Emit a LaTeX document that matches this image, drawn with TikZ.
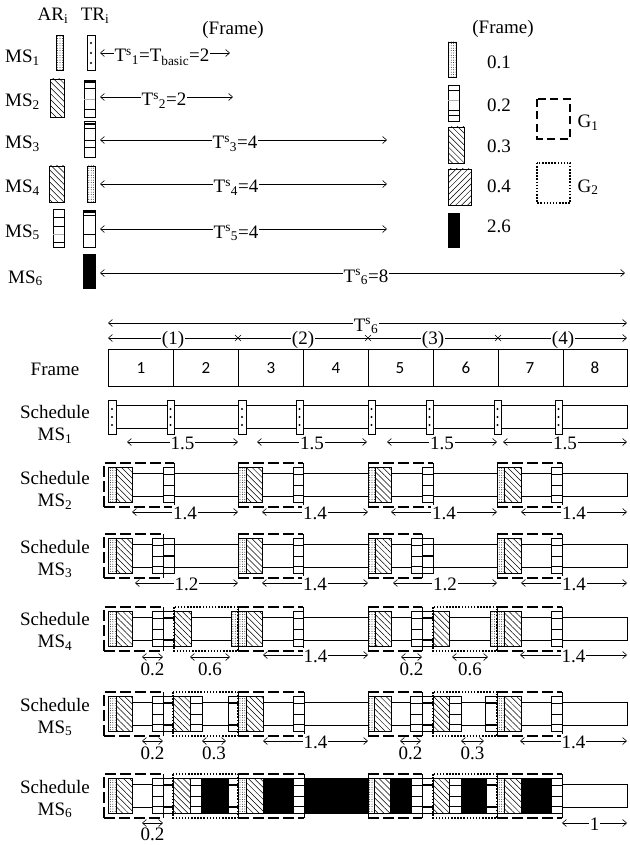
\documentclass[tikz,border=0pt]{standalone}
\usepackage{fontspec}
\setmainfont{Liberation Serif}
\newfontfamily\calfont{Carlito}
\usetikzlibrary{patterns.meta,arrows.meta}
\newcommand{\Tsub}[1]{T\textsuperscript{s}\textsubscript{#1}}
\newcommand{\MSs}[1]{MS\textsubscript{#1}}
% blocks: x1 x2 c
\newcommand{\bDot}[3]{\draw[dotfill] (#1,#3-17.5) rectangle (#2,#3+17.5);}
\newcommand{\bHat}[3]{\draw[hatfill] (#1,#3-17.5) rectangle (#2,#3+17.5);}
\newcommand{\bLin}[3]{\draw[wbox] (#1,#3-17.5) rectangle (#2,#3+17.5);
  \draw[ln] (#1,#3-10.5) -- (#2,#3-10.5) (#1,#3) -- (#2,#3) (#1,#3+10.5) -- (#2,#3+10.5);}
\newcommand{\bThk}[3]{\draw[wbox] (#1,#3-17.5) rectangle (#2,#3+17.5);
  \draw[line width=1.8pt] (#1,#3-11) -- (#2,#3-11) (#1,#3+11) -- (#2,#3+11);}
\newcommand{\bMid}[3]{\draw[wbox] (#1,#3-17.5) rectangle (#2,#3+17.5);
  \draw[ln] (#1,#3-11.5) -- (#2,#3-11.5) (#1,#3+11.5) -- (#2,#3+11.5);
  \draw[line width=1.8pt] (#1,#3) -- (#2,#3);}
\newcommand{\bBlk}[3]{\draw[bbox] (#1,#3-17.5) rectangle (#2,#3+17.5);}
\newcommand{\bTRa}[3]{\draw[wbox] (#1,#3-17) rectangle (#2,#3+17);
  \fill (#1/2+#2/2,#3-8) circle[radius=1.1pt] (#1/2+#2/2,#3) circle[radius=1.1pt] (#1/2+#2/2,#3+8) circle[radius=1.1pt];}
\newcommand{\strip}[1]{\draw[ln] (108,#1-11.5) rectangle (627,#1+11.5);}
% groups
\newcommand{\gOne}[3]{\draw[gdash] (#1,#3-22) -- (#2,#3-22) (#1,#3+22) -- (#2,#3+22);
  \draw[ln] (#1,#3-22) -- (#1,#3+22) (#2,#3-22) -- (#2,#3+22);}
\newcommand{\gOneF}[3]{\draw[gdash] (#1,#3+22) -- (#1,#3-22) -- (#2,#3-22) (#1,#3+22) -- (#2,#3+22);
  \draw[ln] (#2,#3-22) -- (#2,#3+22);}
\newcommand{\gTwo}[3]{\draw[gdot] (#1,#3-22) rectangle (#2,#3+22);}
% arrows
\newcommand{\arl}[4]{\draw[arr] (#1,#3) -- (#2,#3); \node[lbl,anchor=base] at (#1/2+#2/2,#3+7) {#4};}
\newcommand{\sarr}[5]{\draw[arr] (#1,#3) -- (#2,#3); \node[anchor=base] at (#1/2+#2/2,#3+#5) {#4};}
\begin{document}
\begin{tikzpicture}[x=1pt,y=-1pt,
  every node/.style={font=\fontsize{19}{22}\selectfont, inner sep=0pt},
  ln/.style={line width=0.6pt},
  arr/.style={line width=0.6pt, {Straight Barb[length=4pt,width=7pt]}-{Straight Barb[length=4pt,width=7pt]}},
  lbl/.style={fill=white, inner xsep=1pt, inner ysep=1pt},
  dotfill/.style={draw, line width=0.6pt, preaction={fill=white}, pattern={Dots[distance=2.4pt,radius=0.45pt]}},
  hatfill/.style={draw, line width=0.6pt, preaction={fill=white}, pattern={Lines[angle=-45,distance=4.2pt,line width=0.5pt]}},
  hatfillb/.style={draw, line width=0.6pt, preaction={fill=white}, pattern={Lines[angle=45,distance=4.2pt,line width=0.5pt]}},
  wbox/.style={draw, line width=0.6pt, fill=white},
  bbox/.style={draw, line width=0.6pt, fill=black},
  gdash/.style={line width=1.1pt, dash pattern=on 11pt off 4pt},
  gdot/.style={line width=1.3pt, dash pattern=on 1.5pt off 1.6pt},
  numf/.style={font=\calfont\fontsize{17}{20}\selectfont},
]
\useasboundingbox (0,0) rectangle (629,845);

% ---------- top section ----------
\node (hAR) [anchor=base] at (53,21) {AR\textsubscript{i}};
\node (hTR) [anchor=base] at (95,21) {TR\textsubscript{i}};
\node (hFr) at (233,30) {(Frame)};

\node (m1) [anchor=base west] at (5,63) {\MSs{1}};
\node (m2) [anchor=base west] at (5,107) {\MSs{2}};
\node (m3) [anchor=base west] at (5,149) {\MSs{3}};
\node (m4) [anchor=base west] at (5,193) {\MSs{4}};
\node (m5) [anchor=base west] at (5,237) {\MSs{5}};
\node (m6) [anchor=base west] at (8,283) {\MSs{6}};

% AR / TR shapes
\draw[dotfill] (56,35) rectangle (63,70);
\draw[wbox] (87,35) rectangle (95,70);
\fill (91,43) circle[radius=1.1pt] (91,53) circle[radius=1.1pt] (91,63) circle[radius=1.1pt];

\draw[hatfill] (50,79) rectangle (64,117);
\draw[wbox] (84,80) rectangle (95,117);
\draw[line width=1.4pt] (84,82) -- (95,82);
\draw[ln] (84,88) -- (95,88) (84,109) -- (95,109);
\draw[ln,gray!60] (84,99) -- (95,99);

\draw[wbox] (84,121) rectangle (95,157);
\draw[line width=1.4pt] (84,124) -- (95,124);
\draw[ln] (84,128) -- (95,128) (84,140) -- (95,140) (84,147) -- (95,147);

\draw[hatfill] (49,166) rectangle (64,202);
\draw[dotfill] (87,166) rectangle (95,202);

\draw[wbox] (53,209) rectangle (64,247);
\draw[ln] (53,217) -- (64,217) (53,242) -- (64,242) (53,226) -- (64,226);
\draw[ln,gray!60] (53,234) -- (64,234);
\draw[wbox] (83,210) rectangle (95,247);
\draw[line width=1.6pt] (83,212) -- (95,212);
\draw[ln] (83,215) -- (95,215) (83,234) -- (95,234);

\draw[bbox] (83,254) rectangle (95,288);

% period arrows
\draw[arr] (100,53) -- (230,53);
\node (t1) [lbl,anchor=base] at (162,62) {\Tsub{1}=T\textsubscript{basic}=2};
\draw[arr] (100,97) -- (233,97);
\node (t2) [lbl,anchor=base] at (164,106) {\Tsub{2}=2};
\draw[arr] (100,140) -- (387,140);
\node (t3) [lbl,anchor=base] at (235,149) {\Tsub{3}=4};
\draw[arr] (100,184) -- (387,184);
\node (t4) [lbl,anchor=base] at (236,193) {\Tsub{4}=4};
\draw[arr] (100,229) -- (387,229);
\node (t5) [lbl,anchor=base] at (236,238) {\Tsub{5}=4};
\draw[arr] (100,273) -- (625,273);
\node (t6) [lbl,anchor=base] at (366,282) {\Tsub{6}=8};

% legend
\node (lFr) at (503,29) {(Frame)};
\draw[dotfill] (448,42) rectangle (456,77);
\node (l1) at (499,62) {0.1};
\draw[wbox] (448,85) rectangle (459,121);
\draw[ln] (448,90) -- (459,90) (448,110) -- (459,110) (448,115) -- (459,115);
\draw[ln,gray!60] (448,100) -- (459,100);
\node (l2) at (499,105) {0.2};
\draw[hatfill] (448,127) rectangle (464,163);
\node (l3) at (499,146) {0.3};
\draw[hatfillb] (448,169) rectangle (471,205);
\node (l4) at (499,186) {0.4};
\draw[bbox] (448,213) rectangle (459,247);
\node (l5) at (499,226) {2.6};
\draw[line width=1.1pt, dash pattern=on 8pt off 4.5pt] (537,99) rectangle (570,139);
\node (g1) [anchor=base] at (588,128) {G\textsubscript{1}};
\draw[gdot] (537,163) rectangle (570,203);
\node (g2) [anchor=base] at (588,192) {G\textsubscript{2}};

% ---------- frame row ----------
\draw[arr] (108,323) -- (627,323);
\node (T6) [lbl,anchor=base] at (366,331) {\Tsub{6}};
\draw[arr] (108,338) -- (627,338);
\foreach \xx in {238,368,498} \draw[ln] (\xx-3,335) -- (\xx+3,341) (\xx-3,341) -- (\xx+3,335);
\node (p1) [lbl,anchor=base] at (173,344) {(1)};
\node (p2) [lbl,anchor=base] at (303,344) {(2)};
\node (p3) [lbl,anchor=base] at (433,344) {(3)};
\node (p4) [lbl,anchor=base] at (563,344) {(4)};
\node (fr) at (55,369) {Frame};
\draw[ln] (108,349) rectangle (627,386);
\foreach \xx in {173,238,303,368,433,498,563} \draw[ln] (\xx,349) -- (\xx,386);
\foreach \xx/\n in {141/1,206/2,271/3,336/4,400/5,466/6,530/7,595/8}
  \node[numf] at (\xx,368) {\n};

% ---------- schedule labels ----------
\node (s1) [align=center] at (55,424) {Schedule\\\MSs{1}};
\node (s2) [align=center] at (55,490) {Schedule\\\MSs{2}};
\node (s3) [align=center] at (55,559) {Schedule\\\MSs{3}};
\node (s4) [align=center] at (55,631) {Schedule\\\MSs{4}};
\node (s5) [align=center] at (55,717) {Schedule\\\MSs{5}};
\node (s6) [align=center] at (55,799) {Schedule\\\MSs{6}};

% ---------- MS1 ----------
\strip{417}
\bTRa{108}{116}{417} \bTRa{167}{174}{417} \bTRa{238}{246}{417} \bTRa{296}{303}{417}
\bTRa{368}{375}{417} \bTRa{426}{433}{417} \bTRa{494}{501}{417} \bTRa{555}{562}{417}
\arl{127}{238}{442}{1.5} \arl{257}{367}{442}{1.5} \arl{387}{497}{442}{1.5} \arl{503}{627}{442}{1.5}

% ---------- MS2 ----------
\strip{485}
\bDot{108}{116}{485} \bHat{116}{132}{485} \bLin{163}{174}{485}
\bDot{238}{246}{485} \bHat{246}{262}{485} \bLin{293}{303}{485}
\bDot{368}{375}{485} \bHat{375}{391}{485} \bLin{422}{433}{485}
\bDot{497}{504}{485} \bHat{504}{521}{485} \bLin{551}{562}{485}
\gOneF{104}{174}{485} \gOne{238}{303}{485} \gOne{368}{433}{485} \gOne{497}{562}{485}
\arl{132}{238}{512}{1.4} \arl{262}{368}{512}{1.4} \arl{391}{497}{512}{1.4} \arl{521}{627}{512}{1.4}

% ---------- MS3 ----------
\strip{556}
\bDot{108}{116}{556} \bHat{116}{132}{556} \bLin{152}{163}{556} \bMid{163}{174}{556}
\bDot{238}{246}{556} \bHat{246}{262}{556} \bLin{293}{303}{556}
\bDot{368}{375}{556} \bHat{375}{391}{556} \bLin{411}{422}{556} \bMid{422}{433}{556}
\bDot{497}{504}{556} \bHat{504}{521}{556} \bLin{551}{562}{556}
\gOneF{104}{163}{556} \gOne{238}{303}{556} \gOne{368}{422}{556} \gOne{497}{562}{556}
\arl{135}{238}{583}{1.2} \arl{262}{368}{583}{1.4} \arl{393}{497}{583}{1.2} \arl{521}{627}{583}{1.4}

% ---------- MS4 ----------
\strip{629}
\bDot{108}{116}{629} \bHat{116}{132}{629} \bLin{152}{163}{629} \bThk{163}{174}{629}
\bHat{174}{191}{629} \bDot{231}{238}{629}
\bDot{238}{246}{629} \bHat{246}{262}{629} \bLin{293}{303}{629}
\bDot{368}{375}{629} \bHat{375}{391}{629} \bLin{411}{422}{629} \bThk{422}{433}{629}
\bHat{433}{449}{629} \bDot{490}{497}{629}
\bDot{497}{504}{629} \bHat{504}{521}{629} \bLin{551}{562}{629}
\gTwo{174}{238}{629} \gTwo{433}{497}{629}
\gOneF{104}{163}{629} \gOne{238}{303}{629} \gOne{368}{422}{629} \gOne{497}{562}{629}
\sarr{142}{163}{657}{0.2}{18} \sarr{190}{230}{657}{0.6}{18}
\arl{263}{368}{655}{1.4}
\sarr{401}{422}{657}{0.2}{18} \sarr{452}{488}{657}{0.6}{18}
\arl{520}{627}{655}{1.4}

% ---------- MS5 ----------
\strip{714}
\bDot{108}{116}{714} \bHat{116}{132}{714} \bLin{152}{163}{714} \bThk{163}{173}{714}
\bHat{173}{190}{714} \bLin{190}{202}{714} \bThk{228}{238}{714}
\bDot{238}{246}{714} \bHat{246}{263}{714} \bLin{293}{304}{714}
\bDot{368}{374}{714} \bHat{374}{391}{714} \bLin{410}{422}{714} \bThk{422}{433}{714}
\bHat{433}{449}{714} \bLin{449}{461}{714} \bThk{485}{497}{714}
\bDot{497}{504}{714} \bHat{504}{521}{714} \bLin{551}{562}{714}
\gTwo{173}{238}{714} \gTwo{433}{497}{714}
\gOneF{104}{163}{714} \gOne{238}{304}{714} \gOne{368}{422}{714} \gOne{497}{562}{714}
\sarr{142}{163}{741}{0.2}{18} \sarr{202}{226}{741}{0.3}{18}
\arl{263}{368}{741}{1.4}
\sarr{400}{421}{741}{0.2}{18} \sarr{461}{484}{741}{0.3}{18}
\arl{520}{627}{741}{1.4}

% ---------- MS6 ----------
\strip{796}
\bDot{108}{116}{796} \bHat{116}{132}{796} \bLin{152}{163}{796} \bThk{163}{173}{796}
\bHat{173}{190}{796} \bLin{190}{201}{796} \bBlk{201}{228}{796} \bThk{228}{238}{796}
\bDot{238}{246}{796} \bHat{246}{263}{796} \bBlk{263}{293}{796} \bLin{293}{304}{796} \bBlk{304}{368}{796}
\bDot{368}{374}{796} \bHat{374}{390}{796} \bBlk{390}{411}{796} \bLin{411}{422}{796} \bThk{422}{433}{796}
\bHat{433}{449}{796} \bLin{449}{461}{796} \bBlk{461}{486}{796} \bThk{486}{497}{796}
\bDot{497}{504}{796} \bHat{504}{521}{796} \bBlk{521}{551}{796} \bLin{551}{562}{796}
\gTwo{173}{238}{796} \gTwo{433}{497}{796}
\gOneF{104}{163}{796} \gOne{238}{304}{796} \gOne{368}{422}{796} \gOne{497}{562}{796}
\sarr{142}{163}{823}{0.2}{17}
\arl{562}{627}{823}{1}
\end{tikzpicture}
\end{document}
